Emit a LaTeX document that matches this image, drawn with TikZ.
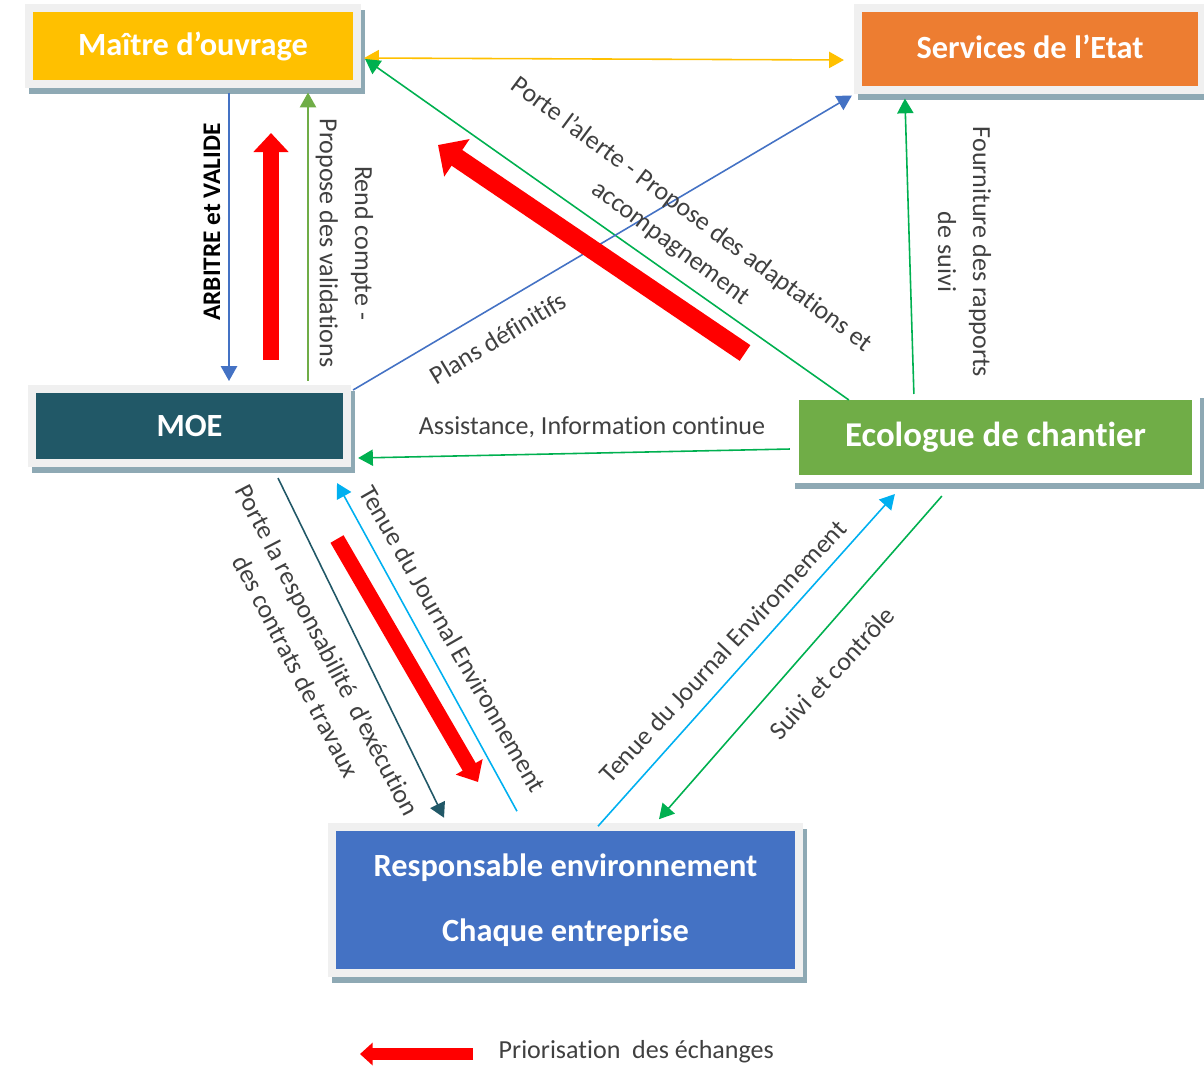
\documentclass[tikz,border=0pt]{standalone}
\usepackage{fontspec}
\setmainfont{Carlito}[Ligatures=NoCommon, Contextuals=NoAlternate]
\usetikzlibrary{arrows.meta,backgrounds}

\definecolor{jaune}{HTML}{FFC000}
\definecolor{orangeetat}{HTML}{ED7D31}
\definecolor{bleumoe}{HTML}{215867}
\definecolor{vertchantier}{HTML}{70AD47}
\definecolor{bleuresp}{HTML}{4472C4}
\definecolor{vertlien}{HTML}{00B050}
\definecolor{cyanlien}{HTML}{00B0F0}
\definecolor{cadre}{HTML}{F0F0F0}
\definecolor{ombre}{HTML}{8EA9B4}
\definecolor{texte}{HTML}{404040}

\begin{document}
\begin{tikzpicture}[x=0.01cm,y=-0.01cm,
    >={Triangle[length=4.2pt,width=4.6pt]},
    bloc/.style={draw=cadre, line width=0.08cm, text=white, align=center, inner sep=0pt,
        font=\bfseries\fontsize{9.2}{18.5}\selectfont},
    lien/.style={line width=0.45pt, ->},
    legende/.style={text=texte, align=center, inner sep=0pt,
        font=\fontsize{7.4}{10}\selectfont}]
    \useasboundingbox (0,0) rectangle (1204,1066);

    % les acteurs
    \node[bloc, fill=jaune, minimum width=3.28cm, minimum height=0.75cm] (mo) at (193,46) {Maître d’ouvrage};
    \node[bloc, fill=orangeetat, minimum width=3.44cm, minimum height=0.81cm] (se) at (1030,49) {\raisebox{1.1pt}{Services de l’Etat}};
    \node[bloc, fill=bleumoe, minimum width=3.15cm, minimum height=0.74cm] (moe) at (189.5,426) {MOE};
    \node[bloc, fill=vertchantier, draw=white, minimum width=4.01cm, minimum height=0.83cm,
        font=\bfseries\fontsize{9.9}{12}\selectfont] (eco) at (995.5,437.5) {\raisebox{0.8pt}{Ecologue de chantier}};
    \node[bloc, fill=bleuresp, minimum width=4.67cm, minimum height=1.465cm] (resp) at (565.5,900)
        {Responsable environnement\\Chaque entreprise};

    \begin{scope}[on background layer]
        \foreach \n in {mo,se,moe,eco,resp}
            \fill[ombre] ([shift={(4,6)}]\n.south west) rectangle ([shift={(4,6)}]\n.north east);
    \end{scope}

    % echanges
    \draw[lien, <->, jaune] ([shift={(3,12)}]mo.east) -- ([shift={(-10,11)}]se.west);
    \draw[lien, vertlien] ([shift={(58,8)}]eco.north west) -- ([shift={(4,13)}]mo.east);
    \draw[lien, bleuresp] ([shift={(2,5)}]moe.north east) -- ([shift={(-2,2)}]se.south west);
    \draw[lien, bleuresp] ([shift={(36,5)}]mo.south) -- ([shift={(39.5,-4)}]moe.north);
    \draw[lien, vertchantier] ([shift={(118.5,-4)}]moe.north) -- ([shift={(115,5)}]mo.south);
    \draw[lien, vertlien] ([shift={(123,2)}]eco.north west) -- ([shift={(51,5)}]se.south west);
    \draw[lien, vertlien] ([shift={(-1,11.5)}]eco.west) -- ([shift={(7,32)}]moe.east);
    \draw[lien, bleumoe] ([shift={(88.5,11)}]moe.south) -- ([shift={(-121.5,-5)}]resp.north);
    \draw[lien, cyanlien] ([shift={(-48.5,-11.5)}]resp.north) -- ([shift={(147.5,16)}]moe.south);
    \draw[lien, cyanlien] ([shift={(32.5,3.5)}]resp.north) -- ([shift={(104,11)}]eco.south west);
    \draw[lien, vertlien] ([shift={(151,13)}]eco.south west) -- ([shift={(93.5,-3.5)}]resp.north);

    % textes des echanges
    \node[legende, rotate=90, text=black, font=\bfseries\fontsize{7.2}{9}\selectfont] (arbitre) at (212,222) {ARBITRE et VALIDE};
    \node[legende, rotate=-90] (rendcompte) at (344.5,243) {Rend compte -\\Propose des validations};
    \node[legende, rotate=-36.6] (alerte) at (681,229) {Porte l’alerte - Propose des adaptations et\\accompagnement};
    \node[legende, rotate=31] (plans) at (498,338) {Plans définitifs};
    \node[legende, rotate=-90] (rapports) at (964.5,252) {Fourniture des rapports\\de suivi};
    \node[legende] (assistance) at (592,427) {Assistance, Information continue};
    \node[legende, rotate=-62.6] (execution) at (312,658) {Porte la responsabilité~ d’exécution\\des contrats de travaux};
    \node[legende, rotate=-60.2] (journalmoe) at (453,639) {Tenue du Journal Environnement};
    \node[legende, rotate=47] (journaleco) at (723,651) {Tenue du Journal Environnement};
    \node[legende, rotate=47] (suivi) at (832,673) {Suivi et contrôle};

    % priorites
    \coordinate (p1a) at (271,360);
    \coordinate (p1b) at (271,133);
    \coordinate (p2a) at (745,353);
    \coordinate (p2b) at (438,145);
    \coordinate (p3a) at (337,539);
    \coordinate (p3b) at (478,782);
    \draw[red, line width=4.8pt, -{Triangle[length=5.4pt,width=9.7pt]}] (p1a) -- (p1b);
    \draw[red, line width=5.4pt, -{Triangle[length=6.5pt,width=12.5pt]}] (p2a) -- (p2b);
    \draw[red, line width=4.3pt, -{Triangle[length=5pt,width=8.5pt]}] (p3a) -- (p3b);

    % legende
    \coordinate (lega) at (473,1054);
    \coordinate (legb) at (360,1054);
    \draw[red, line width=3.4pt, -{Triangle[length=3.6pt,width=6.3pt]}] (lega) -- (legb);
    \node[legende, anchor=west] (prio) at (498,1052) {Priorisation~ des échanges};
\end{tikzpicture}
\end{document}
